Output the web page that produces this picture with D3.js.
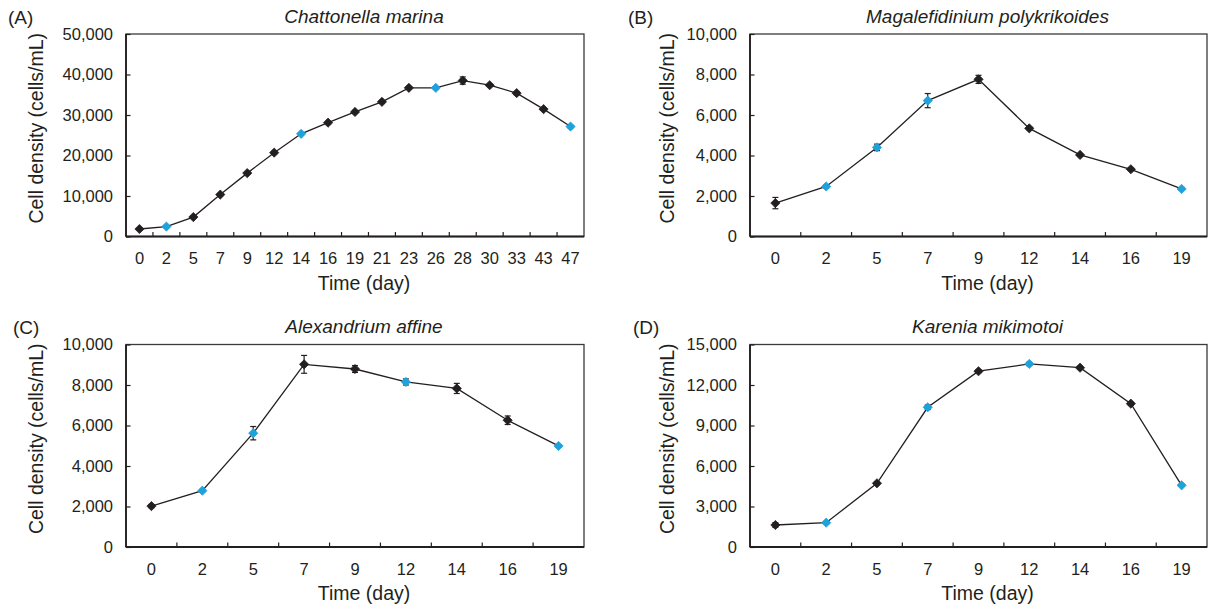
<!DOCTYPE html>
<html>
<head>
<meta charset="utf-8">
<script src="https://cdn.jsdelivr.net/npm/d3@7"></script>
<style>
  body { margin: 0; background: #fff; }
  svg { display: block; font-family: "Liberation Sans", Arial, sans-serif; }
</style>
</head>
<body>
<svg id="chart" width="1209" height="607"></svg>
<script>
// Chattonella marina
const daysA = ["0","2","5","7","9","12","14","16","19","21","23","26","28","30","33","43","47"];
const cellsA = [1850, 2450, 4800, 10350, 15650, 20700, 25350, 28100, 30750, 33250, 36700, 36700, 38500, 37350, 35400, 31450, 27150];
const errA = [150, 150, 250, 250, 250, 300, 250, 250, 300, 300, 300, 250, 900, 300, 400, 300, 300];
const blueA = ["2", "14", "26", "47"];
const ticksA = [0, 10000, 20000, 30000, 40000, 50000];

// Magalefidinium polykrikoides
const daysB = ["0","2","5","7","9","12","14","16","19"];
const cellsB = [1650, 2470, 4400, 6710, 7760, 5340, 4030, 3320, 2350];
const errB = [280, 70, 160, 350, 200, 60, 60, 60, 50];
const blueB = ["2", "5", "7", "19"];
const ticksB = [0, 2000, 4000, 6000, 8000, 10000];

// Alexandrium affine
const daysC = ["0","2","5","7","9","12","14","16","19"];
const cellsC = [2020, 2780, 5620, 9020, 8790, 8150, 7830, 6260, 4990];
const errC = [80, 60, 330, 440, 170, 150, 250, 210, 60];
const blueC = ["2", "5", "12", "19"];
const ticksC = [0, 2000, 4000, 6000, 8000, 10000];

// Karenia mikimotoi
const daysD = ["0","2","5","7","9","12","14","16","19"];
const cellsD = [1630, 1800, 4720, 10350, 13020, 13560, 13280, 10620, 4570];
const errD = [170, 80, 80, 170, 110, 120, 100, 110, 60];
const blueD = ["2", "7", "12", "19"];
const ticksD = [0, 3000, 6000, 9000, 12000, 15000];

const panels = [
  { tag: "(A)", title: "Chattonella marina", days: daysA, cells: cellsA, err: errA, blue: blueA, ticks: ticksA,
    x0: 126, x1: 584, y0: 34, y1: 236.5, tagX: 8, tagY: 24, labX: 43 },
  { tag: "(B)", title: "Magalefidinium polykrikoides", days: daysB, cells: cellsB, err: errB, blue: blueB, ticks: ticksB,
    x0: 750, x1: 1207, y0: 34, y1: 236.5, tagX: 628, tagY: 24, labX: 674 },
  { tag: "(C)", title: "Alexandrium affine", days: daysC, cells: cellsC, err: errC, blue: blueC, ticks: ticksC,
    x0: 126, x1: 584, y0: 344.5, y1: 547, tagX: 13, tagY: 334, labX: 43 },
  { tag: "(D)", title: "Karenia mikimotoi", days: daysD, cells: cellsD, err: errD, blue: blueD, ticks: ticksD,
    x0: 750, x1: 1207, y0: 344.5, y1: 547, tagX: 633, tagY: 334, labX: 674 }
];

const svg = d3.select("#chart");
const fmt = d3.format(",");
const ink = "#231f20";
const blue = "#1fa2dc";

panels.forEach(p => {
  const g = svg.append("g");
  const x = d3.scaleBand().domain(p.days).range([p.x0, p.x1]).padding(0);
  const y = d3.scaleLinear().domain([0, d3.max(p.ticks)]).range([p.y1, p.y0]);
  const cx = d => x(d) + x.bandwidth() / 2;
  const mid = (p.x0 + p.x1) / 2 + 9;

  // frame
  g.append("rect")
    .attr("x", p.x0).attr("y", p.y0)
    .attr("width", p.x1 - p.x0).attr("height", p.y1 - p.y0)
    .attr("fill", "none").attr("stroke", "#3a3a3a").attr("stroke-width", 1.3);

  // y axis
  const ya = g.append("g")
    .attr("transform", `translate(${p.x0},0)`)
    .call(d3.axisLeft(y).tickValues(p.ticks).tickSize(-4.5).tickPadding(13).tickFormat(fmt));
  ya.select(".domain").remove();
  ya.selectAll("line").attr("stroke", ink).attr("stroke-width", 1.2);
  ya.selectAll("text").attr("font-size", 16.5).attr("fill", ink);

  // x axis labels
  const xa = g.append("g")
    .attr("transform", `translate(0,${p.y1})`)
    .call(d3.axisBottom(x).tickSize(0).tickPadding(16));
  xa.select(".domain").remove();
  xa.selectAll("text").attr("font-size", 16.5).attr("fill", ink);

  // x ticks between categories
  g.selectAll(".xt")
    .data(p.days.slice(1))
    .enter().append("line")
    .attr("x1", d => x(d)).attr("x2", d => x(d))
    .attr("y1", p.y1).attr("y2", p.y1 - 4.5)
    .attr("stroke", ink).attr("stroke-width", 1.2);

  // main axis lines
  g.append("line").attr("x1", p.x0).attr("x2", p.x1).attr("y1", p.y1).attr("y2", p.y1)
    .attr("stroke", ink).attr("stroke-width", 1.8);
  g.append("line").attr("x1", p.x0).attr("x2", p.x0).attr("y1", p.y0).attr("y2", p.y1)
    .attr("stroke", ink).attr("stroke-width", 1.8);

  const pts = p.days.map((d, i) => ({ day: d, v: p.cells[i], e: p.err[i] }));

  // line
  g.append("path")
    .datum(pts)
    .attr("d", d3.line().x(d => cx(d.day)).y(d => y(d.v)))
    .attr("fill", "none").attr("stroke", ink).attr("stroke-width", 1.3);

  // error bars
  const eb = g.selectAll(".eb").data(pts).enter().append("g");
  eb.append("line")
    .attr("x1", d => cx(d.day)).attr("x2", d => cx(d.day))
    .attr("y1", d => y(d.v - d.e)).attr("y2", d => y(d.v + d.e))
    .attr("stroke", ink).attr("stroke-width", 1.2);
  [1, -1].forEach(s => {
    eb.append("line")
      .attr("x1", d => cx(d.day) - 3).attr("x2", d => cx(d.day) + 3)
      .attr("y1", d => y(d.v + s * d.e)).attr("y2", d => y(d.v + s * d.e))
      .attr("stroke", ink).attr("stroke-width", 1.2);
  });

  // markers (diamonds)
  g.selectAll(".mk").data(pts).enter().append("path")
    .attr("d", d => {
      const px = cx(d.day), py = y(d.v), r = 4.6;
      return `M${px},${py - r}L${px + r},${py}L${px},${py + r}L${px - r},${py}Z`;
    })
    .attr("fill", d => p.blue.includes(d.day) ? blue : ink)
    .attr("stroke", d => p.blue.includes(d.day) ? blue : ink)
    .attr("stroke-width", 0.8);

  // texts
  g.append("text").attr("x", p.tagX).attr("y", p.tagY)
    .attr("font-size", 19).attr("fill", ink).text(p.tag);
  g.append("text").attr("x", mid).attr("y", p.y0 - 11.5)
    .attr("text-anchor", "middle").attr("font-size", 19).attr("font-style", "italic")
    .attr("fill", ink).text(p.title);
  g.append("text").attr("x", mid).attr("y", p.y1 + 53)
    .attr("text-anchor", "middle").attr("font-size", 19.5).attr("fill", ink).text("Time (day)");
  g.append("text")
    .attr("transform", `translate(${p.labX},${(p.y0 + p.y1) / 2 - 7}) rotate(-90)`)
    .attr("text-anchor", "middle").attr("font-size", 19.5).attr("fill", ink)
    .text("Cell density (cells/mL)");
});
</script>
</body>
</html>
